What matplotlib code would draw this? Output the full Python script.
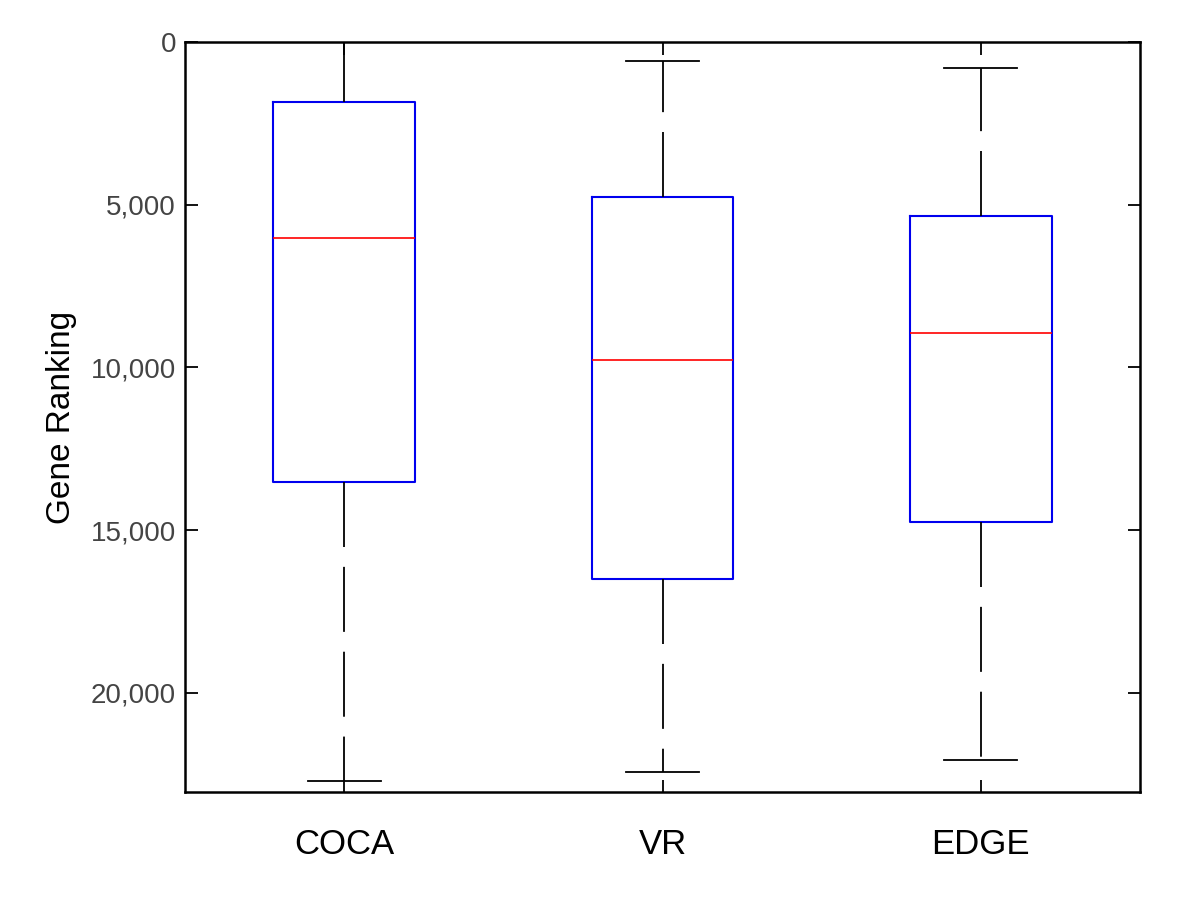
import matplotlib
matplotlib.use("Agg")
import matplotlib.pyplot as plt
from matplotlib.ticker import FuncFormatter

plt.rcParams['font.family'] = ['Liberation Sans', 'DejaVu Sans']

categories = ["COCA", "VR", "EDGE"]
whisker_low = [0, 580, 800]
q1 = [1840, 4760, 5350]
median = [6020, 9770, 8940]
q3 = [13520, 16500, 14750]
whisker_high = [22710, 22430, 22060]
yticks = [0, 5000, 10000, 15000, 20000]

stats = []
for i, c in enumerate(categories):
    stats.append(dict(label=c, whislo=whisker_low[i], q1=q1[i], med=median[i],
                      q3=q3[i], whishi=whisker_high[i], fliers=[]))

fig = plt.figure(figsize=(12, 9.09), dpi=100)
ax = fig.add_axes([185/1200, 1 - 792/909, (1140-185)/1200, (792-42)/909])

ax.bxp(stats, positions=[1, 2, 3], widths=0.446, showfliers=False,
       boxprops=dict(color='#0000ee', linewidth=1.5),
       medianprops=dict(color='#ff0000', linewidth=1.2),
       whiskerprops=dict(color='black', linewidth=1.3, linestyle=(0, (36, 11))),
       capprops=dict(color='black', linewidth=1.3),
       capwidths=0.23)

ax.set_xlim(0.5, 3.5)
ax.set_ylim(23050, 0)
ax.set_yticks(yticks)
ax.yaxis.set_major_formatter(FuncFormatter(lambda v, p: f"{int(v):,}"))
ax.set_xticks([1, 2, 3])
ax.set_xticklabels(categories, fontsize=25)
ax.tick_params(axis='y', labelsize=20, labelcolor='#444444', direction='in',
               length=9, width=1.3, left=True, right=True, pad=6.5)
ax.tick_params(axis='x', direction='in', length=9, width=1.3, top=True,
               bottom=True, pad=26)
for s in ax.spines.values():
    s.set_linewidth(1.8)
ax.set_ylabel("Gene Ranking", fontsize=24, labelpad=10)

fig.savefig("out.png", dpi=100)
